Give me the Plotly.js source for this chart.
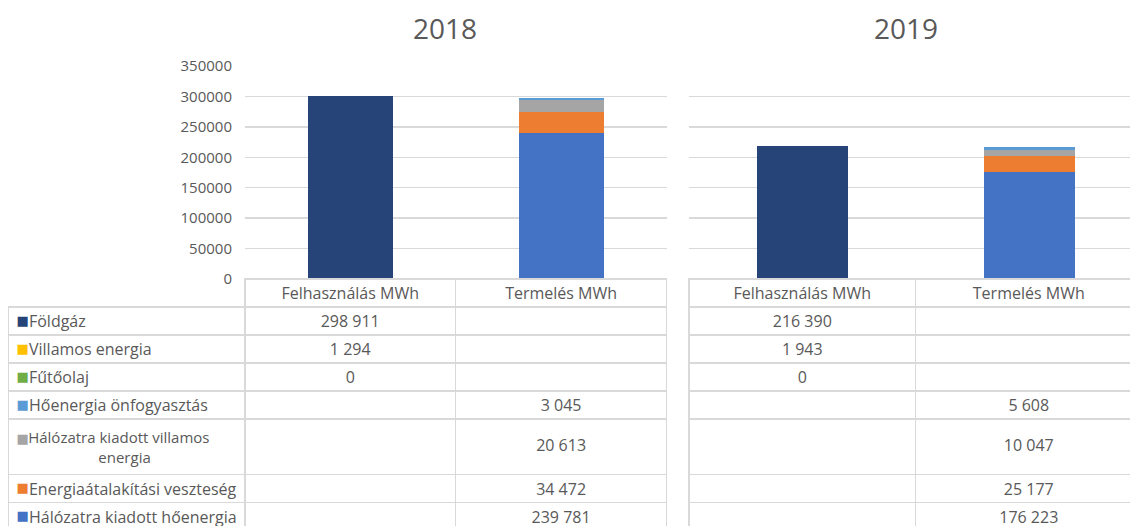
<!DOCTYPE html>
<html>
<head>
<meta charset="utf-8">
<script src="https://cdn.plot.ly/plotly-3.0.1.min.js"></script>
<style>
  html, body { margin: 0; padding: 0; overflow: hidden; background: #fff; }
</style>
</head>
<body>
<div id="chart"></div>
<script>
// categories (columns of the data table)
var categories = ['Felhasználás MWh', 'Termelés MWh'];

// series, in the order of the data table rows (top to bottom)
var seriesNames = [
    'Földgáz',
    'Villamos energia',
    'Fűtőolaj',
    'Hőenergia önfogyasztás',
    'Hálózatra kiadott villamos energia',
    'Energiaátalakítási veszteség',
    'Hálózatra kiadott hőenergia'
];
var seriesColors = ['#264478', '#FFC000', '#70AD47', '#5B9BD5', '#A5A5A5', '#ED7D31', '#4472C4'];

// values per series: [Felhasználás, Termelés]
var values2018 = [
    [298911, null],
    [1294, null],
    [0, null],
    [null, 3045],
    [null, 20613],
    [null, 34472],
    [null, 239781]
];
var values2019 = [
    [216390, null],
    [1943, null],
    [0, null],
    [null, 5608],
    [null, 10047],
    [null, 25177],
    [null, 176223]
];

var W = 1150, H = 540;
var txtColor = '#595959';
var gridColor = '#D9D9D9';
var clear = 'rgba(0,0,0,0)';
var fontFam = '"Open Sans", sans-serif';
var NB = '\u00a0';
var TALL = 4;       // the row whose name wraps onto two lines
var FS = 16;        // table font size
var tallFS = 15;    // font of the two-line name (sets that row's height)
var tallValFS = 10; // base size in the tall row value cells (sets the line step)
var keySpan = '<span style="font-family:DejaVu Sans;font-size:13px">■</span>';

function px(x) { return x / W; }
function py(y) { return 1 - y / H; }

function fmt(v) {
    if (v === null || v === undefined) return '';
    return String(v).replace(/\B(?=(\d{3})+(?!\d))/g, NB);
}
function hidden(s) { return '<span style="color:' + clear + '">' + s + '</span>'; }

var traces = [];

// stacked bars: last table row sits at the bottom of the stack
function addBars(vals, xa, ya) {
    for (var i = vals.length - 1; i >= 0; i--) {
        traces.push({
            type: 'bar',
            name: seriesNames[i],
            x: categories,
            y: vals[i],
            xaxis: xa,
            yaxis: ya,
            marker: { color: seriesColors[i], line: { width: 0 } },
            showlegend: false,
            hoverinfo: 'name+y'
        });
    }
}
addBars(values2018, 'x', 'y');
addBars(values2019, 'x2', 'y2');

var rowH = 28;
var hdrH = 28;
var tableTop = 279;

// names column (spaces -> nbsp so the table does not re-wrap them)
var labelCells = seriesNames.map(function (n, i) {
    if (i == TALL) {
        return NB.repeat(3) + 'Hálózatra kiadott villamos'.replace(/ /g, NB) + '<br>' + NB.repeat(21) + 'energia';
    }
    return NB.repeat(3) + n.replace(/ /g, NB);
});
var labelSizes = seriesNames.map(function (n, i) { return i == TALL ? tallFS : FS; });

// value columns; the tall row value is pushed to the middle of its cell
function dataCols(vals, padTall) {
    return categories.map(function (c, j) {
        return vals.map(function (row, i) {
            var s = fmt(row[j]);
            if (i == TALL) {
                if (s !== '') return hidden('x') + '<br><span style="font-size:' + FS + 'px">' + s + '</span>';
                if (padTall) return hidden('Hg') + '<br>' + hidden('Hg');
            }
            return s;
        });
    });
}
function dataSizes(vals, padTall) {
    return categories.map(function (c, j) {
        return vals.map(function (row, i) {
            if (i != TALL) return FS;
            if (row[j] !== null) return tallValFS;
            return padTall ? tallFS : FS;
        });
    });
}

// 2018: names + two value columns in one table so the rows line up
traces.push({
    type: 'table',
    domain: { x: [px(8.5), px(667)], y: [0, py(tableTop)] },
    columnwidth: [236.5, 211, 211],
    header: {
        values: [''].concat(categories.map(function (c) { return c.replace(/ /g, NB); })),
        height: hdrH,
        align: 'center',
        font: { family: fontFam, size: FS, color: txtColor },
        line: { color: [clear, gridColor, gridColor], width: 1.5 },
        fill: { color: [clear, '#fff', '#fff'] }
    },
    cells: {
        values: [labelCells].concat(dataCols(values2018, false)),
        align: ['left', 'center', 'center'],
        height: rowH,
        font: { family: fontFam, size: [labelSizes].concat(dataSizes(values2018, false)), color: txtColor },
        line: { color: gridColor, width: 1.5 },
        fill: { color: '#fff' }
    }
});

// legend keys, laid over the names column
var keyCells = seriesNames.map(function (n, i) {
    return i == TALL ? keySpan + hidden('H') + '<br>' + hidden('g') : '■';
});
var keySizes = seriesNames.map(function (n, i) { return i == TALL ? tallFS : 13; });
var keyFams = seriesNames.map(function (n, i) { return i == TALL ? fontFam : 'DejaVu Sans'; });
traces.push({
    type: 'table',
    domain: { x: [px(8.5), px(40)], y: [0, py(tableTop)] },
    header: {
        values: [''],
        height: hdrH,
        line: { color: clear, width: 0 },
        fill: { color: clear }
    },
    cells: {
        values: [keyCells],
        align: 'left',
        height: rowH,
        font: { family: [keyFams], size: [keySizes], color: [seriesColors] },
        line: { color: clear, width: 0 },
        fill: { color: clear }
    }
});

// 2019 table
traces.push({
    type: 'table',
    domain: { x: [px(689), px(1143)], y: [0, py(tableTop)] },
    header: {
        values: categories.map(function (c) { return c.replace(/ /g, NB); }),
        height: hdrH,
        align: 'center',
        font: { family: fontFam, size: FS, color: txtColor },
        line: { color: gridColor, width: 1.5 },
        fill: { color: '#fff' }
    },
    cells: {
        values: dataCols(values2019, true),
        align: 'center',
        height: rowH,
        font: { family: fontFam, size: dataSizes(values2019, true), color: txtColor },
        line: { color: gridColor, width: 1.5 },
        fill: { color: '#fff' }
    }
});

var yDomain = [py(tableTop), py(66)];

var layout = {
    width: W,
    height: H,
    margin: { l: 0, r: 0, t: 0, b: 0 },
    paper_bgcolor: '#fff',
    plot_bgcolor: '#fff',
    barmode: 'stack',
    bargap: 0.6,
    showlegend: false,
    font: { family: fontFam, color: txtColor },
    xaxis: {
        domain: [px(245), px(667)],
        type: 'category',
        showticklabels: false,
        showgrid: false,
        zeroline: false,
        showline: false
    },
    xaxis2: {
        domain: [px(689), px(1143)],
        type: 'category',
        showticklabels: false,
        showgrid: false,
        zeroline: false,
        showline: false,
        anchor: 'y2'
    },
    yaxis: {
        domain: yDomain,
        range: [0, 350000],
        dtick: 50000,
        tickformat: 'd',
        gridcolor: gridColor,
        gridwidth: 1.5,
        zeroline: false,
        showline: false,
        ticklabelstandoff: 12,
        tickfont: { family: fontFam, size: 15, color: txtColor }
    },
    yaxis2: {
        domain: yDomain,
        range: [0, 350000],
        dtick: 50000,
        gridcolor: gridColor,
        gridwidth: 1.5,
        zeroline: false,
        showline: false,
        showticklabels: false,
        anchor: 'x2'
    },
    annotations: [
        {
            text: '2018', xref: 'paper', yref: 'paper',
            x: px(445), y: py(28), xanchor: 'center', yanchor: 'middle',
            showarrow: false, font: { family: fontFam, size: 28, color: txtColor }
        },
        {
            text: '2019', xref: 'paper', yref: 'paper',
            x: px(906), y: py(28), xanchor: 'center', yanchor: 'middle',
            showarrow: false, font: { family: fontFam, size: 28, color: txtColor }
        }
    ]
};

Plotly.newPlot('chart', traces, layout, { displayModeBar: false, staticPlot: true });
</script>
</body>
</html>
